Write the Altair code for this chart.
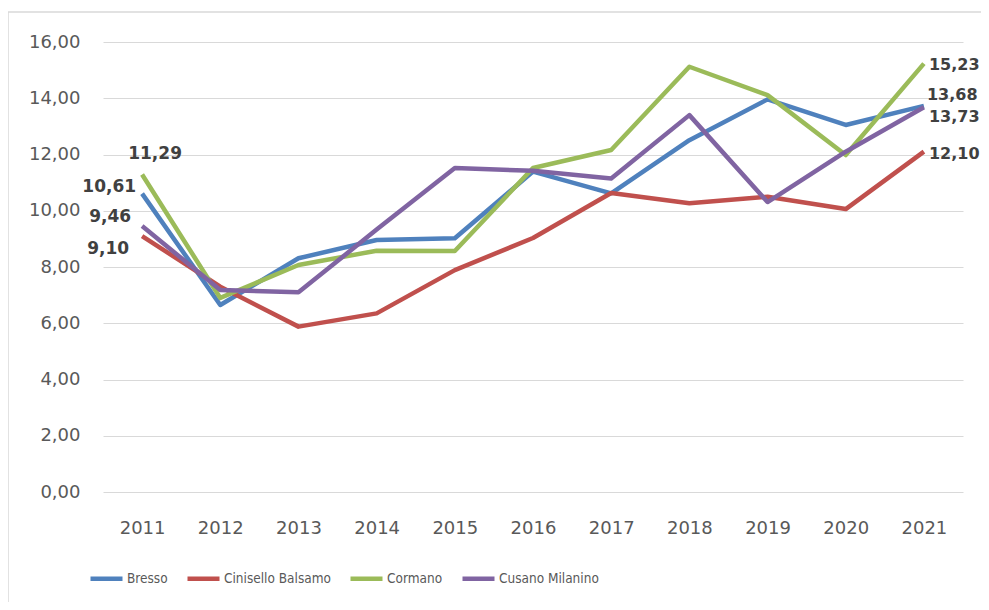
import altair as alt
import pandas as pd

years = [str(y) for y in range(2011, 2022)]
series_names = ["Bresso", "Cinisello Balsamo", "Cormano", "Cusano Milanino"]
bresso = [10.61, 6.65, 8.31, 8.96, 9.02, 11.39, 10.62, 12.51, 13.96, 13.05, 13.73]
cinisello = [9.10, 7.30, 5.88, 6.35, 7.89, 9.03, 10.63, 10.27, 10.50, 10.06, 12.10]
cormano = [11.29, 6.90, 8.07, 8.58, 8.57, 11.52, 12.16, 15.12, 14.11, 11.98, 15.23]
cusano = [9.46, 7.18, 7.10, 9.33, 11.52, 11.42, 11.15, 13.40, 10.31, 12.10, 13.68]
colors = ["#4F81BD", "#C0504D", "#9BBB59", "#8064A2"]

rows = []
for name, vals in zip(series_names, [bresso, cinisello, cormano, cusano]):
    for y, v in zip(years, vals):
        rows.append({"series": name, "year": y, "value": v})
df = pd.DataFrame(rows)

AXIS_FONT = "DejaVu Sans"
LABEL_FONT = "DejaVu Sans"

x_enc = alt.X("year:O", scale=alt.Scale(type="point", padding=0.5),
              axis=alt.Axis(title=None, labelAngle=0, domain=False, ticks=False, tickSize=0,
                            grid=False, labelPadding=27, labelFont=AXIS_FONT, labelFontSize=18,
                            labelColor="#595959"))
y_enc = alt.Y("value:Q", scale=alt.Scale(domain=[0, 16], nice=False),
              axis=alt.Axis(title=None, values=list(range(0, 17, 2)), domain=False, ticks=False,
                            tickSize=0, labelPadding=23, gridColor="#d9d9d9", gridWidth=1,
                            labelFont=AXIS_FONT, labelFontSize=18, labelColor="#595959",
                            labelExpr="replace(format(datum.value, '.2f'), '.', ',')"))

border = alt.Chart(pd.DataFrame({"a": [0]})).mark_rect(
    fillOpacity=0, stroke="#d9d9d9", strokeWidth=1.5
).encode(x=alt.value(-95), x2=alt.value(920), y=alt.value(-30), y2=alt.value(600))

lines = alt.Chart(df).mark_line(strokeWidth=4.5, strokeJoin="round").encode(
    x=x_enc, y=y_enc,
    color=alt.Color("series:N", scale=alt.Scale(domain=series_names, range=colors),
                    legend=alt.Legend(title=None, orient="none", legendX=-15, legendY=518,
                                      direction="horizontal", symbolType="stroke",
                                      symbolStrokeWidth=4.5, symbolSize=1024,
                                      labelFont="Liberation Sans Narrow, DejaVu Sans Condensed",
                                      labelFontSize=13.5, labelColor="#595959",
                                      labelOffset=2, columnPadding=10)),
)

label_specs = [
    ("Cormano", "2011", "center", 13, -20, 17),
    ("Bresso", "2011", "right", -6, -7, 17),
    ("Cusano Milanino", "2011", "right", -11, -9, 17),
    ("Cinisello Balsamo", "2011", "right", -13, 13, 17),
    ("Cormano", "2021", "left", 5, 1, 16),
    ("Cusano Milanino", "2021", "left", 3, -12, 16),
    ("Bresso", "2021", "left", 5, 11, 16),
    ("Cinisello Balsamo", "2021", "left", 5, 2, 16),
]

text_layers = []
for s, yr, al, dx, dy, fs in label_specs:
    t = alt.Chart(df).transform_filter(
        (alt.datum.series == s) & (alt.datum.year == yr)
    ).transform_calculate(
        label="replace(format(datum.value, '.2f'), '.', ',')"
    ).mark_text(align=al, baseline="middle", dx=dx, dy=dy, font=LABEL_FONT,
                fontSize=fs, fontWeight="bold", color="#404040").encode(
        x=alt.X("year:O"), y=alt.Y("value:Q"), text="label:N")
    text_layers.append(t)

chart = alt.layer(border, lines, *text_layers).properties(
    width=860, height=450,
    autosize=alt.AutoSizeParams(type="none"),
    padding={"left": 95, "top": 34, "right": 18, "bottom": 110},
    background="white",
).configure_view(stroke=None)

chart.save("out.html", embed_options={"renderer": "svg", "actions": False})
